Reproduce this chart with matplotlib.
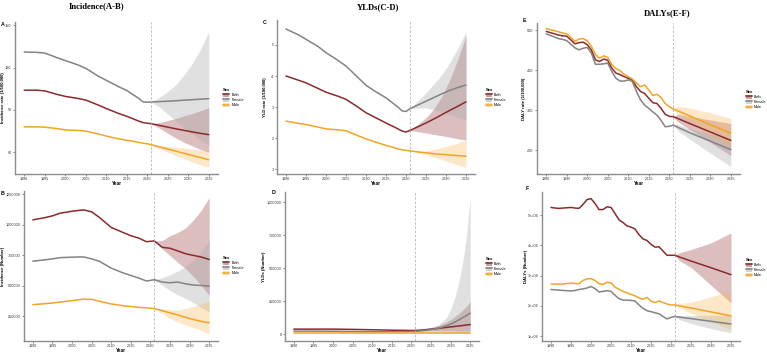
import matplotlib
matplotlib.use('Agg')
import matplotlib.pyplot as plt
from matplotlib.patches import Patch
from matplotlib.lines import Line2D

# ---------------- data ----------------
# A: incidence rate (1/100,000)
a_years = [1990, 1993, 1995, 1998, 2000, 2003, 2005, 2008, 2010, 2013, 2015, 2018, 2019, 2020, 2021]
a_female = [131, 130.8, 130.3, 127, 125, 122, 119.5, 114, 111, 106.5, 103.8, 98, 95.6, 95.5, 95.6]
a_both = [104, 104, 103.5, 101, 99.6, 98.2, 97, 93.5, 91, 87.5, 85.5, 82, 81, 80.6, 80.2]
a_male = [78, 78, 77.8, 76.8, 75.8, 75.5, 75, 73, 71.5, 69.5, 68.5, 67, 66.4, 66, 65.3]
a_proj_years = [2021, 2023, 2025, 2027, 2029, 2031, 2033, 2035]
a_female_p = [95.6, 95.9, 96.2, 96.5, 96.9, 97.3, 97.6, 98]
a_female_hi = [95.6, 99, 103, 108, 115, 123, 133, 145.3]
a_female_lo = [95.6, 92, 87, 82, 77, 73, 69, 65]
a_both_p = [80.2, 79, 77.8, 76.6, 75.5, 74.4, 73.4, 72.5]
a_both_hi = [80.2, 81, 82.5, 84, 85.8, 87.5, 89.5, 91.5]
a_both_lo = [80.2, 77, 73.5, 70, 67, 64.5, 62, 60]
a_male_p = [65.3, 63.8, 62.3, 60.8, 59.2, 57.7, 56.2, 54.7]
a_male_hi = [65.3, 64.8, 64.2, 63.6, 63, 62.3, 61.7, 61]
a_male_lo = [65.3, 62.5, 60, 57.5, 55.5, 53, 51.2, 49.4]

# B: incidence (number)
b_years = [1990, 1993, 1995, 1997, 2000, 2003, 2005, 2007, 2010, 2013, 2015, 2017, 2019, 2021]
b_both = [1040000, 1058000, 1073000, 1095000, 1111000, 1122000, 1106000, 1060000, 978000, 937000, 910000, 891000, 861000, 867000]
b_female = [701000, 712000, 720000, 730000, 734000, 736000, 720000, 700000, 644000, 605000, 584000, 563000, 538000, 549000]
b_male = [344000, 352000, 358000, 366000, 377000, 390000, 388000, 372000, 350000, 336000, 329000, 322000, 318000, 312000]
b_proj_years = [2021, 2023, 2025, 2027, 2029, 2031, 2033, 2035]
b_both_p = [867000, 815000, 807000, 785000, 762000, 748000, 735000, 715000]
b_both_hi = [867000, 870000, 910000, 937000, 975000, 1040000, 1120000, 1223000]
b_both_lo = [867000, 802000, 747000, 690000, 640000, 575000, 500000, 421000]
b_female_p = [549000, 530000, 524000, 530000, 515000, 505000, 502000, 497000]
b_female_hi = [549000, 565000, 590000, 620000, 660000, 710000, 780000, 870000]
b_female_lo = [549000, 505000, 460000, 425000, 395000, 360000, 320000, 285000]
b_male_p = [312000, 295000, 277000, 259000, 240000, 222000, 207000, 196000]
b_male_hi = [312000, 310000, 305000, 300000, 315000, 330000, 350000, 375000]
b_male_lo = [312000, 270000, 231000, 200000, 177000, 155000, 130000, 103000]

# C: YLD rate (1/100,000)
c_years = [1990, 1993, 1995, 1998, 2000, 2003, 2005, 2008, 2010, 2013, 2015, 2018, 2019, 2020, 2021]
c_female = [5.51, 5.33, 5.18, 4.95, 4.75, 4.50, 4.32, 3.95, 3.70, 3.45, 3.30, 3.00, 2.88, 2.86, 2.95]
c_both = [4.00, 3.87, 3.78, 3.60, 3.48, 3.35, 3.25, 3.00, 2.82, 2.62, 2.49, 2.30, 2.23, 2.20, 2.25]
c_male = [2.55, 2.48, 2.44, 2.36, 2.30, 2.27, 2.24, 2.08, 1.98, 1.85, 1.77, 1.66, 1.63, 1.61, 1.59]
c_proj_years = [2021, 2023, 2025, 2027, 2029, 2031, 2033, 2035]
c_female_p = [2.95, 3.07, 3.19, 3.31, 3.43, 3.54, 3.63, 3.71]
c_female_hi = [2.95, 3.20, 3.46, 3.75, 4.05, 4.45, 4.90, 5.42]
c_female_lo = [2.95, 2.97, 2.98, 2.92, 2.85, 2.76, 2.67, 2.58]
c_both_p = [2.25, 2.37, 2.49, 2.62, 2.76, 2.90, 3.03, 3.17]
c_both_hi = [2.25, 2.45, 2.66, 2.95, 3.35, 3.90, 4.55, 5.29]
c_both_lo = [2.25, 2.21, 2.17, 2.12, 2.08, 2.03, 1.98, 1.94]
c_male_p = [1.59, 1.56, 1.53, 1.50, 1.48, 1.46, 1.44, 1.42]
c_male_hi = [1.59, 1.58, 1.60, 1.64, 1.70, 1.77, 1.85, 1.94]
c_male_lo = [1.59, 1.53, 1.47, 1.39, 1.31, 1.22, 1.14, 1.06]

# D: YLDs (number)
d_years = [1990, 1995, 2000, 2005, 2010, 2015, 2020, 2021]
d_both = [40000, 40000, 40000, 38000, 35000, 32000, 30000, 30000]
d_female = [25000, 25000, 24000, 22000, 20000, 20000, 22000, 23000]
d_male = [12000, 12000, 12000, 12000, 12000, 12000, 12000, 12000]
d_proj_years = [2021, 2023, 2025, 2027, 2029, 2030, 2031, 2032, 2033, 2034, 2035]
d_both_p = [30000, 34000, 40000, 46000, 53000, 57000, 60000, 64000, 67000, 71000, 75000]
d_both_hi = [30000, 38000, 50000, 68000, 95000, 112000, 132000, 155000, 183000, 213000, 248000]
d_both_lo = [30000, 29000, 28000, 28000, 27000, 27000, 26000, 26000, 25000, 25000, 25000]
d_female_p = [23000, 28000, 36000, 48000, 66000, 78000, 92000, 108000, 125000, 143000, 161000]
d_female_hi = [23000, 40000, 55000, 75000, 130000, 190000, 270000, 380000, 530000, 730000, 1040000]
d_female_lo = [23000, 20000, 18000, 17000, 16000, 16000, 16000, 15000, 15000, 15000, 15000]
d_male_p = [12000, 12000, 12000, 12000, 12000, 12000, 12000, 12000, 12000, 12000, 12000]
d_male_hi = [12000, 12500, 13000, 13500, 14000, 14000, 14500, 14500, 15000, 15000, 15000]
d_male_lo = [12000, 11500, 11000, 10500, 10000, 10000, 9500, 9500, 9000, 9000, 9000]

# E: DALY rate (1/100,000)
e_years = list(range(1990, 2022))
e_male = [504, 501, 499, 496, 493, 491, 482, 472, 478, 479, 474, 460, 439, 430, 436, 432,
          414, 404, 399, 390, 384, 378, 368, 359, 363, 351, 337, 340, 332, 317, 309, 303]
e_both = [497, 494, 491, 488, 486, 485, 476, 466, 469, 470, 464, 451, 426, 422, 428, 425,
          405, 393, 389, 384, 380, 376, 359, 347, 342, 330, 319, 317, 305, 290, 285, 284]
e_female = [491, 487, 483, 479, 477, 474, 465, 456, 451, 455, 457, 443, 415, 415, 416, 418,
            397, 380, 373, 373, 376, 372, 347, 326, 313, 305, 296, 288, 275, 259, 260, 263]
e_proj_years = [2021, 2022, 2025, 2030, 2035]
e_male_p = [303, 299, 286, 264, 243]
e_male_hi = [303, 310, 306, 294, 280]
e_male_lo = [303, 290, 268, 238, 208]
e_both_p = [284, 280, 267, 246, 225]
e_both_hi = [284, 290, 285, 276, 267]
e_both_lo = [284, 272, 252, 220, 187]
e_female_p = [263, 258, 244, 223, 202]
e_female_hi = [263, 265, 254, 241, 229]
e_female_lo = [263, 250, 228, 193, 160]

# F: DALYs (number, millions)
f_years = list(range(1990, 2022))
f_both = [5.25, 5.23, 5.22, 5.23, 5.24, 5.25, 5.23, 5.22, 5.35, 5.51, 5.54, 5.38, 5.18, 5.18, 5.27, 5.25,
          5.05, 4.84, 4.75, 4.64, 4.60, 4.54, 4.35, 4.21, 4.16, 4.03, 3.94, 3.95, 3.81, 3.67, 3.67, 3.67]
f_male = [2.72, 2.72, 2.72, 2.72, 2.74, 2.75, 2.74, 2.73, 2.84, 2.89, 2.90, 2.84, 2.73, 2.71, 2.78, 2.76,
          2.62, 2.55, 2.48, 2.43, 2.38, 2.33, 2.26, 2.22, 2.28, 2.16, 2.11, 2.16, 2.11, 2.06, 2.03, 2.03]
f_female = [2.54, 2.53, 2.52, 2.51, 2.50, 2.49, 2.51, 2.54, 2.56, 2.59, 2.64, 2.57, 2.46, 2.48, 2.50, 2.48,
            2.35, 2.24, 2.19, 2.19, 2.18, 2.16, 2.03, 1.92, 1.84, 1.81, 1.77, 1.74, 1.65, 1.57, 1.62, 1.65]
f_proj_years = [2021, 2022, 2025, 2030, 2035]
f_both_p = [3.67, 3.62, 3.48, 3.26, 3.03]
f_both_hi = [3.67, 3.75, 3.86, 4.08, 4.41]
f_both_lo = [3.67, 3.50, 3.27, 2.68, 2.10]
f_male_p = [2.03, 2.00, 1.93, 1.80, 1.67]
f_male_hi = [2.03, 2.08, 2.12, 2.30, 2.51]
f_male_lo = [2.03, 1.95, 1.75, 1.48, 1.22]
f_female_p = [1.65, 1.63, 1.58, 1.49, 1.40]
f_female_hi = [1.65, 1.68, 1.68, 1.69, 1.70]
f_female_lo = [1.65, 1.55, 1.42, 1.25, 1.11]
f_scale = 1e6

sexes = ['Both', 'Female', 'Male']
x_ticks = [1990, 1995, 2000, 2005, 2010, 2015, 2020, 2025, 2030, 2035]

# ---------------- style ----------------
line_col = {'Both': '#8B2A2E', 'Female': '#838383', 'Male': '#F2A423'}
fill_col = {'Both': '#8B2A2E', 'Female': '#a8a8a8', 'Male': '#F7B54A'}
fill_alpha = {'Both': 0.3, 'Female': 0.35, 'Male': 0.3}
sans = 'Liberation Sans'

W, H = 767, 354
fig = plt.figure(figsize=(W / 100, H / 100), dpi=100)
fig.patch.set_facecolor('white')


def px_axes(l, t, r, b):
    return fig.add_axes([l / W, 1 - b / H, (r - l) / W, (b - t) / H])


def draw_panel(box, hist_x, hist, proj_x, proj, hi, lo, ylim, yticks, ylabel, ylab_x,
               letter, letter_xy, scale=1.0, fmt=None):
    ax = px_axes(*box)
    for s in sexes:
        ax.fill_between(proj_x, [v * scale for v in lo[s]], [v * scale for v in hi[s]],
                        color=fill_col[s], alpha=fill_alpha[s], lw=0)
    for s in sexes:
        ax.plot(hist_x, [v * scale for v in hist[s]], color=line_col[s], lw=1.1, solid_capstyle='round')
        ax.plot(proj_x, [v * scale for v in proj[s]], color=line_col[s], lw=1.1, solid_capstyle='round')
    ax.axvline(2021, color='#b5b5b5', lw=0.6, ls=(0, (3, 2)))
    ax.set_xlim(1987.75, 2037.25)
    ax.set_ylim(*ylim)
    ax.set_xticks(x_ticks)
    ax.set_yticks(yticks)
    if fmt is not None:
        ax.set_yticklabels([fmt(v) for v in yticks])
    else:
        ax.set_yticklabels([str(v) for v in yticks])
    for sp in ['top', 'right']:
        ax.spines[sp].set_visible(False)
    for sp in ['left', 'bottom']:
        ax.spines[sp].set_color('#8c8c8c')
        ax.spines[sp].set_linewidth(1.0)
    ax.tick_params(labelsize=2.7, length=1.5, width=0.5, color='#555555', pad=1,
                   labelcolor='#333333')
    for lab in ax.get_xticklabels() + ax.get_yticklabels():
        lab.set_family(sans)
    ax.set_xlabel('Year', fontsize=3.4, fontweight='bold', family=sans)
    ax.xaxis.set_label_coords(0.5, -0.045)
    ax.xaxis.label.set_va('top')
    ax.set_ylabel(ylabel, fontsize=3.1, fontweight='bold', family=sans)
    # place y label at its pixel column
    l, t, r, b = box
    ax.yaxis.set_label_coords((ylab_x - l) / (r - l), 0.5)
    ax.yaxis.label.set_va('center')
    fig.text(letter_xy[0] / W, 1 - letter_xy[1] / H, letter, fontsize=3.8, fontweight='bold',
             family=sans, ha='left', va='center')
    return ax


def add_legend(x, y):
    handles = [(Patch(facecolor=fill_col[s], alpha=fill_alpha[s] + 0.15, lw=0),
                Line2D([], [], color=line_col[s], lw=1.1)) for s in sexes]
    leg = fig.legend(handles, sexes, title='Sex', loc='upper left',
                     bbox_to_anchor=(x / W, 1 - y / H), frameon=False,
                     prop={'family': sans, 'size': 2.7}, handlelength=1.6, handleheight=1.1,
                     handletextpad=0.6, labelspacing=0.25, borderaxespad=0, borderpad=0)
    leg.get_title().set_fontsize(3)
    leg.get_title().set_fontweight('bold')
    leg.get_title().set_family(sans)
    leg._legend_box.align = 'left'


def d3(a, b, c):
    return {'Both': a, 'Female': b, 'Male': c}


# A
draw_panel((15, 22, 218, 174), a_years, d3(a_both, a_female, a_male), a_proj_years,
           d3(a_both_p, a_female_p, a_male_p), d3(a_both_hi, a_female_hi, a_male_hi),
           d3(a_both_lo, a_female_lo, a_male_lo), (44.6, 152.3), [60, 90, 120, 150],
           'Incidence rate (1/100,000)', 3.5, 'A', (1, 25))
add_legend(223, 88)

# B
draw_panel((24, 191, 218, 341), b_years, d3(b_both, b_female, b_male), b_proj_years,
           d3(b_both_p, b_female_p, b_male_p), d3(b_both_hi, b_female_hi, b_male_hi),
           d3(b_both_lo, b_female_lo, b_male_lo), (46000, 1277000),
           [250000, 500000, 750000, 1000000, 1250000], 'Incidence (Number)', 3.5, 'B', (1, 194))
add_legend(223, 256)

# C
draw_panel((277, 20, 475, 174), c_years, d3(c_both, c_female, c_male), c_proj_years,
           d3(c_both_p, c_female_p, c_male_p), d3(c_both_hi, c_female_hi, c_male_hi),
           d3(c_both_lo, c_female_lo, c_male_lo), (0.85, 5.8), [1, 2, 3, 4, 5],
           'YLD rate (1/100,000)', 265, 'C', (263, 23))
add_legend(486, 88)

# D
draw_panel((285, 192, 479, 341), d_years, d3(d_both, d_female, d_male), d_proj_years,
           d3(d_both_p, d_female_p, d_male_p), d3(d_both_hi, d_female_hi, d_male_hi),
           d3(d_both_lo, d_female_lo, d_male_lo), (-50000, 1079000),
           [0, 250000, 500000, 750000, 1000000], 'YLDs (Number)', 264.5, 'D', (272, 192))
add_legend(486, 257)

# E
draw_panel((537, 23, 740, 174), e_years, d3(e_both, e_female, e_male), e_proj_years,
           d3(e_both_p, e_female_p, e_male_p), d3(e_both_hi, e_female_hi, e_male_hi),
           d3(e_both_lo, e_female_lo, e_male_lo), (141, 518), [200, 300, 400, 500],
           'DALY rate (1/100,000)', 523.5, 'E', (523, 21))
add_legend(746, 90)

# F
draw_panel((542, 192, 740, 341), f_years, d3(f_both, f_female, f_male), f_proj_years,
           d3(f_both_p, f_female_p, f_male_p), d3(f_both_hi, f_female_hi, f_male_hi),
           d3(f_both_lo, f_female_lo, f_male_lo), (0.84e6, 5.76e6),
           [1e6, 2e6, 3e6, 4e6, 5e6], 'DALYs (Number)', 525.5, 'F', (526, 189), scale=f_scale,
           fmt=lambda v: '%de+06' % int(v / 1e6))
add_legend(746, 258)

# column titles
for txt, x, y in [('Incidence(A-B)', 97, 6), ('YLDs(C-D)', 378, 7), ('DALYs(E-F)', 667, 13)]:
    fig.text(x / W, 1 - y / H, txt, fontsize=6.2, fontweight='bold', family='Liberation Serif',
             ha='center', va='center')

fig.savefig('out.png', dpi=100, facecolor='white')
